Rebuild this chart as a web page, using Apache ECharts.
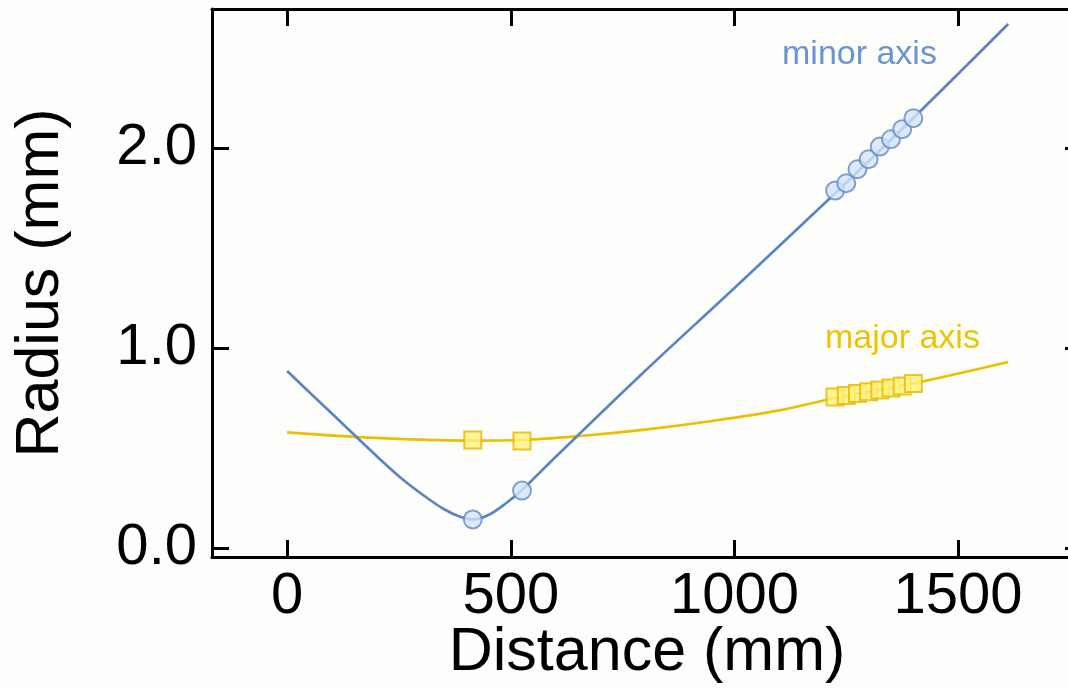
<!DOCTYPE html>
<html>
<head>
<meta charset="utf-8">
<script src="https://cdn.jsdelivr.net/npm/echarts@6/dist/echarts.min.js"></script>
<style>
  html, body { margin: 0; padding: 0; background: #fdfefc; }
  #chart { width: 1068px; height: 689px; }
</style>
</head>
<body>
<div id="chart"></div>
<script>
// Beam radius along the propagation distance: fitted curves and measured points
const xTicks = [0, 500, 1000, 1500];
const yTicks = [0, 1, 2];

// fitted curve, minor axis  [distance mm, radius mm]
const minorCurve = [
  [0, 0.885], [100, 0.672], [200, 0.46], [260, 0.34], [310, 0.255], [350, 0.195],
  [385, 0.158], [415, 0.143], [450, 0.165], [490, 0.225], [525, 0.29], [600, 0.455],
  [800, 0.885], [1000, 1.30], [1214, 1.75], [1400, 2.15], [1612, 2.62]
];
// measured points, minor axis
const minorPoints = [
  [415, 0.143], [525, 0.287], [1225, 1.787], [1250, 1.824], [1275, 1.894],
  [1300, 1.944], [1325, 2.007], [1350, 2.044], [1375, 2.094], [1400, 2.149]
];
// fitted curve, major axis
const majorCurve = [
  [0, 0.578], [150, 0.556], [300, 0.542], [415, 0.537], [525, 0.540], [655, 0.56],
  [800, 0.592], [950, 0.635], [1100, 0.688], [1225, 0.75], [1400, 0.823], [1612, 0.93]
];
// measured points, major axis
const majorPoints = [
  [415, 0.54], [525, 0.535], [1225, 0.755], [1250, 0.763], [1275, 0.772],
  [1300, 0.781], [1325, 0.79], [1350, 0.80], [1375, 0.81], [1400, 0.823]
];

const FONT = '"Liberation Sans", Arial, Helvetica, sans-serif';
const BLUE = '#5a85c4';
const BLUE_FILL = '#d2e3f7';
const GOLD = '#ecbf00';
const GOLD_FILL = '#fff27e';

const X_MIN = -168, X_MAX = 1777;
const Y_MIN = -0.045, Y_MAX = 2.695;

const frameLine = { show: true, onZero: false, lineStyle: { color: '#000', width: 3 } };
const frameTick = (vals) => ({
  show: true, inside: true, length: 17, customValues: vals,
  lineStyle: { color: '#000', width: 3 }
});

const chart = echarts.init(document.getElementById('chart'), null, { renderer: 'canvas' });
chart.setOption({
  backgroundColor: '#fdfefc',
  animation: false,
  grid: {
    left: 212, top: 9, width: 870, height: 548,
    containLabel: false, outerBoundsMode: 'none'
  },
  xAxis: [
    {
      type: 'value', position: 'bottom', min: X_MIN, max: X_MAX,
      axisLine: frameLine, axisTick: frameTick(xTicks), splitLine: { show: false },
      axisLabel: {
        customValues: xTicks, margin: 11, color: '#000', fontSize: 58, fontFamily: FONT,
        formatter: (v) => String(v)
      },
      name: 'Distance (mm)', nameLocation: 'middle', nameGap: 66, nameMoveOverlap: false,
      nameTextStyle: { color: '#000', fontSize: 61, fontFamily: FONT }
    },
    {
      type: 'value', position: 'top', min: X_MIN, max: X_MAX,
      axisLine: frameLine, axisTick: frameTick(xTicks), splitLine: { show: false },
      axisLabel: { show: false }
    }
  ],
  yAxis: [
    {
      type: 'value', position: 'left', min: Y_MIN, max: Y_MAX,
      axisLine: frameLine, axisTick: frameTick(yTicks), splitLine: { show: false },
      axisLabel: {
        customValues: yTicks, margin: 15, color: '#000', fontSize: 58, fontFamily: FONT,
        formatter: (v) => v.toFixed(1), padding: [0, 0, 10, 0]
      },
      name: 'Radius (mm)', nameLocation: 'middle', nameGap: 140, nameRotate: 90,
      nameMoveOverlap: false,
      nameTextStyle: { color: '#000', fontSize: 61, fontFamily: FONT }
    },
    {
      type: 'value', position: 'right', min: Y_MIN, max: Y_MAX,
      axisLine: frameLine, axisTick: frameTick(yTicks), splitLine: { show: false },
      axisLabel: { show: false }
    }
  ],
  series: [
    {
      name: 'major fit', type: 'line', data: majorCurve, smooth: 0.35, showSymbol: false,
      lineStyle: { color: GOLD, width: 2.7 }, z: 2
    },
    {
      name: 'minor fit', type: 'line', data: minorCurve, smooth: 0.35, showSymbol: false,
      lineStyle: { color: BLUE, width: 2.7 }, z: 2
    },
    {
      name: 'major axis', type: 'scatter', data: majorPoints, symbol: 'rect', symbolSize: 17,
      itemStyle: { color: GOLD_FILL, borderColor: '#e6b800', borderWidth: 2 }, z: 3
    },
    {
      name: 'minor axis', type: 'scatter', data: minorPoints, symbol: 'circle', symbolSize: 18,
      itemStyle: { color: BLUE_FILL, borderColor: '#6089c6', borderWidth: 2 }, z: 3
    }
  ],
  graphic: [
    {
      type: 'text', left: 782, top: 38,
      style: { text: 'minor axis', fill: '#6b93cf', font: '34px ' + FONT }
    },
    {
      type: 'text', left: 825, top: 322,
      style: { text: 'major axis', fill: '#eec300', font: '34px ' + FONT }
    }
  ]
});
</script>
</body>
</html>
